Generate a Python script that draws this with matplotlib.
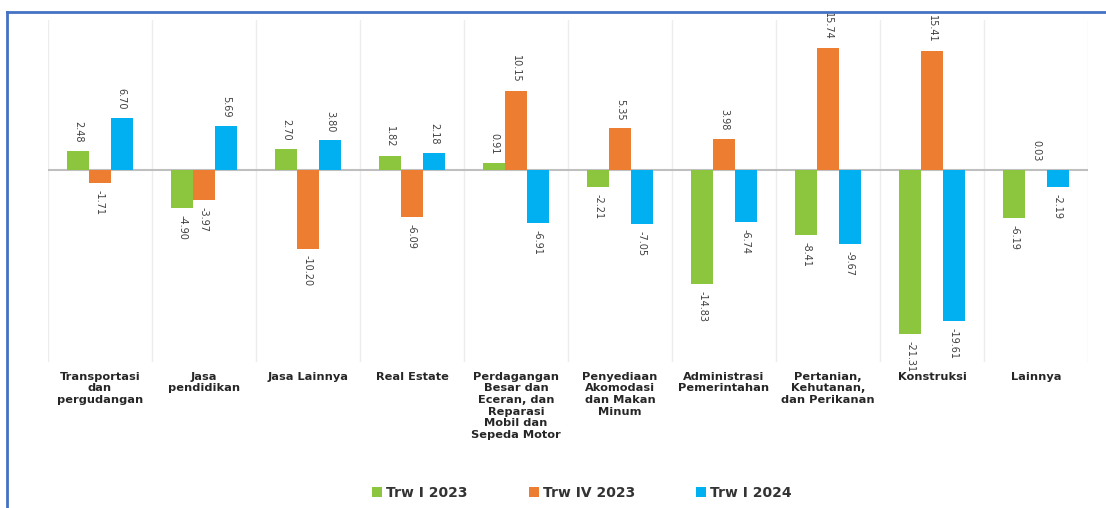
import numpy as np
import matplotlib.pyplot as plt
from matplotlib.lines import Line2D

# data (growth, %)
categories = ['Transportasi\ndan\npergudangan', 'Jasa\npendidikan', 'Jasa Lainnya', 'Real Estate',
              'Perdagangan\nBesar dan\nEceran, dan\nReparasi\nMobil dan\nSepeda Motor',
              'Penyediaan\nAkomodasi\ndan Makan\nMinum', 'Administrasi\nPemerintahan',
              'Pertanian,\nKehutanan,\ndan Perikanan', 'Konstruksi', 'Lainnya']
series_names = ['Trw I 2023', 'Trw IV 2023', 'Trw I 2024']
trw1_2023 = [2.48, -4.90, 2.70, 1.82, 0.91, -2.21, -14.83, -8.41, -21.31, -6.19]
trw4_2023 = [-1.71, -3.97, -10.20, -6.09, 10.15, 5.35, 3.98, 15.74, 15.41, 0.03]
trw1_2024 = [6.70, 5.69, 3.80, 2.18, -6.91, -7.05, -6.74, -9.67, -19.61, -2.19]
colors = ['#8CC63F', '#ED7D31', '#00B0F0']

Fig = plt.figure(figsize=(11.06, 5.08), dpi=100)
Ax = Fig.add_axes([0.0434, 0.2874, 0.9403, 0.6732])

index = np.arange(len(categories))
bar_width = 0.21
label_font = ['Liberation Sans Narrow', 'DejaVu Sans Condensed', 'DejaVu Sans']
for k, (vals, name) in enumerate(zip([trw1_2023, trw4_2023, trw1_2024], series_names)):
    xs = index + (k - 1) * bar_width
    bars = Ax.bar(xs, vals, bar_width, color=colors[k], label=name, zorder=3)
    for rect, v in zip(bars, vals):
        xc = rect.get_x() + rect.get_width() / 2
        if v >= 0:
            Ax.annotate('%.2f' % v, (xc, v), xytext=(0, 6), textcoords='offset points',
                        rotation=270, ha='center', va='bottom', fontsize=7,
                        color='#404040', family=label_font)
        else:
            Ax.annotate('%.2f' % v, (xc, v), xytext=(0, -5), textcoords='offset points',
                        rotation=270, ha='center', va='top', fontsize=7,
                        color='#404040', family=label_font)

Ax.axhline(0, color='#BFBFBF', lw=1.5, zorder=2)
Ax.set_xlim(-0.5, len(categories) - 0.5)
Ax.set_ylim(-24.9, 19.4)
Ax.set_yticks([])
Ax.set_xticks(index)
Ax.set_xticklabels(categories, fontsize=8.2, fontweight='bold', color='#262626', linespacing=1.2,
                   va='top')
Ax.set_xticks(np.arange(-0.5, len(categories)), minor=True)
Ax.tick_params(axis='x', which='both', length=0, pad=7)
Ax.grid(True, which='minor', axis='x', color='#EDEDED', lw=1)
Ax.grid(False, which='major')
for s in Ax.spines.values():
    s.set_visible(False)

Fig.legend(loc='center', bbox_to_anchor=(582 / 1106, 1 - 493 / 508), ncol=3, frameon=False,
           prop={'size': 10, 'weight': 'bold'}, handlelength=0.7, handleheight=0.7,
           handletextpad=0.3, columnspacing=4.4, labelcolor='#333333')

# blue frame (left and top edge)
Fig.add_artist(Line2D([7 / 1106, 7 / 1106], [0, 1 - 12 / 508], color='#4472C4', lw=2,
                      transform=Fig.transFigure))
Fig.add_artist(Line2D([7 / 1106, 1], [1 - 12 / 508, 1 - 12 / 508], color='#4472C4', lw=2,
                      transform=Fig.transFigure))

Fig.savefig('out.png', dpi=100)
